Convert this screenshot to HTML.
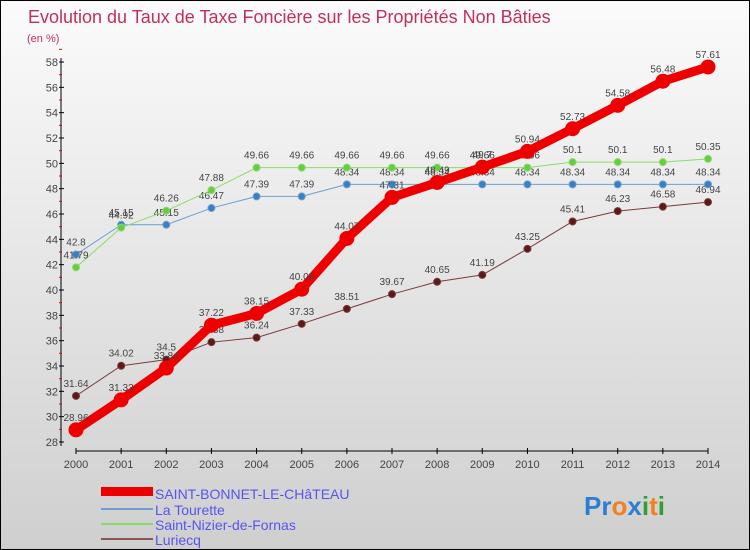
<!DOCTYPE html>
<html><head><meta charset="utf-8"><style>
body{margin:0;}
#c{width:750px;height:550px;position:relative;box-sizing:border-box;border:1px solid #000;background:linear-gradient(#fbfbfb,#cfcfcf);font-family:"Liberation Sans",sans-serif;overflow:hidden}
</style></head><body>
<div id="c">
<svg id="s" width="748" height="548" style="position:absolute;left:0;top:0" font-family="Liberation Sans, sans-serif">
<text x="27" y="22" font-size="18" fill="#c2305a">Evolution du Taux de Taxe Foncière sur les Propriétés Non Bâties</text>
<text x="26" y="41" font-size="11" fill="#c2305a">(en %)</text>
<g id="axes"></g><g id="series"></g>
<g font-size="14" fill="#5555ee">
<rect x="100" y="486" width="52" height="9" fill="#ee0000"/>
<text x="154" y="498">SAINT-BONNET-LE-CHâTEAU</text>
<rect x="100" y="507" width="52" height="2" fill="#6aa0d0"/>
<text x="154" y="514">La Tourette</text>
<rect x="100" y="522" width="52" height="2" fill="#88dd66"/>
<text x="154" y="529">Saint-Nizier-de-Fornas</text>
<rect x="100" y="537" width="52" height="2" fill="#8b5555"/>
<text x="154" y="544">Luriecq</text>
</g>
<text x="583" y="514" font-size="26" font-weight="bold"><tspan fill="#2a7fd4">Pr</tspan><tspan fill="#f08020">o</tspan><tspan fill="#2a7fd4">x</tspan><tspan fill="#30a030">i</tspan><tspan fill="#f08020">t</tspan><tspan fill="#30a030">i</tspan></text>
</svg>
</div>
<script>
const years=[2000,2001,2002,2003,2004,2005,2006,2007,2008,2009,2010,2011,2012,2013,2014];
const yTicks=[28,30,32,34,36,38,40,42,44,46,48,50,52,54,56,58];
const sbValues=[28.96,31.33,33.84,37.22,38.15,40.06,44.07,47.31,48.49,49.7,50.94,52.73,54.58,56.48,57.61];
const tourValues=[42.8,45.15,45.15,46.47,47.39,47.39,48.34,48.34,48.34,48.34,48.34,48.34,48.34,48.34,48.34];
const nizierValues=[41.79,44.92,46.26,47.88,49.66,49.66,49.66,49.66,49.66,49.66,49.66,50.1,50.1,50.1,50.35];
const luriecqValues=[31.64,34.02,34.5,35.88,36.24,37.33,38.51,39.67,40.65,41.19,43.25,45.41,46.23,46.58,46.94];
const NS='http://www.w3.org/2000/svg';
const X=i=>75+i*(707-75)/(years.length-1);
const Y=v=>441-(v-28)*(441-61)/30;
function mk(t,a,p){const e=document.createElementNS(NS,t);for(const k in a)e.setAttribute(k,a[k]);p.appendChild(e);return e;}
const ax=document.getElementById('axes');
let e=mk('line',{x1:60,y1:57,x2:60,y2:445,stroke:'#000','stroke-width':1},ax);


e=mk('line',{x1:75,y1:450,x2:707,y2:450,stroke:'#000','stroke-width':1},ax);


yTicks.forEach(v=>{mk('line',{x1:58,y1:Y(v),x2:63,y2:Y(v),stroke:'#000'},ax);
mk('line',{x1:58,y1:Y(v+1),x2:61,y2:Y(v+1),stroke:'#e00'},ax);
const t=mk('text',{x:57,y:Y(v)+4,'font-size':11,fill:'#444','text-anchor':'end'},ax);t.textContent=v;

});
years.forEach((y,i)=>{mk('line',{x1:X(i),y1:447,x2:X(i),y2:453,stroke:'#000'},ax);
const t=mk('text',{x:X(i),y:467,'font-size':11,fill:'#444','text-anchor':'middle'},ax);t.textContent=y;

});
const sg=document.getElementById('series');
function draw(vals,color,w,r,dot,name){
const g=mk('g',{},sg);


mk('polyline',{points:vals.map((v,i)=>X(i)+','+Y(v)).join(' '),fill:'none',stroke:color,'stroke-width':w,'stroke-linejoin':'round'},g);
vals.forEach((v,i)=>{const c=mk('circle',{cx:X(i),cy:Y(v),r:r,fill:dot,stroke:color,'stroke-width':1},g);


const t=mk('text',{x:X(i),y:Y(v)-9,'font-size':10,fill:'#444','text-anchor':'middle'},g);t.textContent=v;

});}
draw(luriecqValues,'#7a3a3a',1,3.5,'#5a1a1a','luriecq-series');
draw(tourValues,'#6aa0d0',1,3.5,'#3a80c0','la-tourette-series');
draw(nizierValues,'#88dd66',1,3.5,'#66cc44','saint-nizier-series');
draw(sbValues,'#ee0000',9,7,'#ee0000','saint-bonnet-series');
</script>
</body></html>
